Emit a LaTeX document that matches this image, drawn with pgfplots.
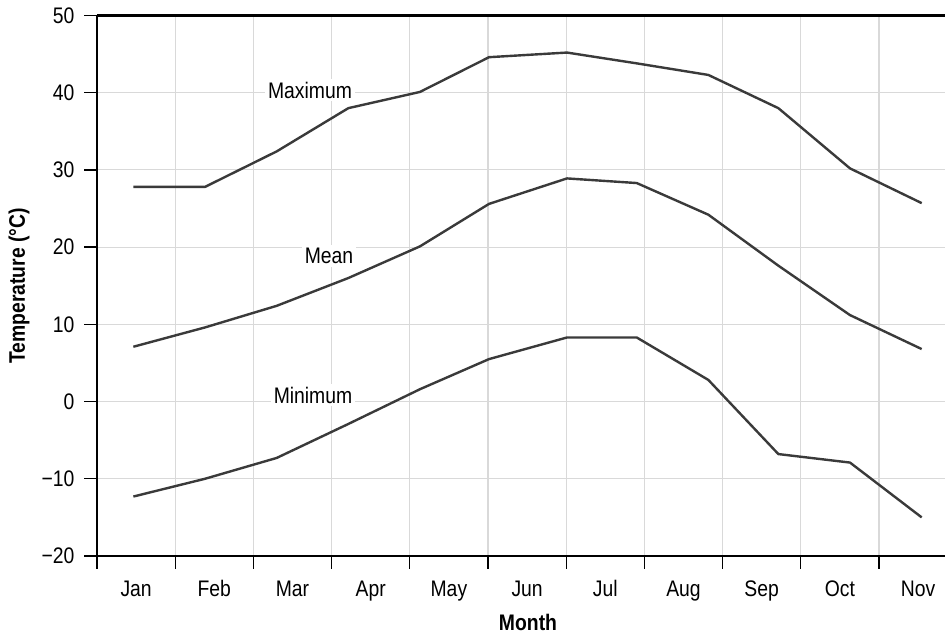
\documentclass[border=0pt]{standalone}
\usepackage{pgfplots}
\pgfplotsset{compat=1.18}
\usepackage{fontspec}
\setmainfont{Liberation Sans}[FakeStretch=0.86]

\definecolor{gridgray}{HTML}{D9D9D9}
\definecolor{linegray}{HTML}{3A3A3A}

% Monthly temperatures; x is measured in month-width units from the left axis
\pgfplotstableread{
x      max   mean   min
0.465  27.8   7.1  -12.3
1.381  27.8   9.6  -10.0
2.298  32.4  12.4   -7.3
3.214  38.0  16.0   -2.9
4.130  40.1  20.1    1.6
5.013  44.6  25.6    5.5
6.010  45.2  28.9    8.3
6.902  43.8  28.3    8.3
7.818  42.3  24.2    2.8
8.713  38.0  17.6   -6.8
9.629  30.2  11.2   -7.9
10.546 25.7   6.8  -15.0
}\temps

\newcommand\lblfont{\fontsize{22.5}{26}\selectfont}

\begin{document}
\begin{tikzpicture}[x=1pt,y=1pt]
\useasboundingbox (0,0) rectangle (946,637);
\begin{axis}[
  at={(97pt,81pt)}, anchor=south west,
  scale only axis,
  width=848pt, height=540.5pt,
  xmin=0, xmax=10.844,
  ymin=-20, ymax=50,
  axis x line=bottom, axis y line=left,
  axis line style={line width=2.4pt, -},
  xtick={0,...,10},
  xticklabels={Jan,Feb,Mar,Apr,May,Jun,Jul,Aug,Sep,Oct,Nov},
  xticklabel style={anchor=base, xshift=39.1pt, yshift=-28pt},
  ytick={-20,-10,...,50},
  yticklabels={−20,−10,0,10,20,30,40,50},
  yticklabel style={xshift=-6pt},
  tick align=outside,
  major tick length=13pt,
  tick style={line width=1.3pt, black},
  grid=major,
  major grid style={line width=1.1pt, gridgray},
  ticklabel style={font=\lblfont},
  clip=false,
]
\draw[line width=2.4pt] (rel axis cs:0,1) -- (rel axis cs:1,1);

\addplot[linegray, line width=2.4pt, line join=round] table[x=x, y=max] {\temps};
\addplot[linegray, line width=2.4pt, line join=round] table[x=x, y=mean] {\temps};
\addplot[linegray, line width=2.4pt, line join=round] table[x=x, y=min] {\temps};

\node[fill=white, inner sep=3pt, anchor=base, font=\lblfont] at (axis cs:2.724,39.3) {Maximum};
\node[fill=white, inner sep=3pt, anchor=base, font=\lblfont] at (axis cs:2.967,17.9) {Mean};
\node[fill=white, inner sep=3pt, anchor=base, font=\lblfont] at (axis cs:2.762,-0.2) {Minimum};
\end{axis}
\node[font=\bfseries\lblfont] at (528,15) {Month};
\node[font=\bfseries\lblfont, rotate=90] at (19,351) {Temperature (°C)};
\end{tikzpicture}
\end{document}
